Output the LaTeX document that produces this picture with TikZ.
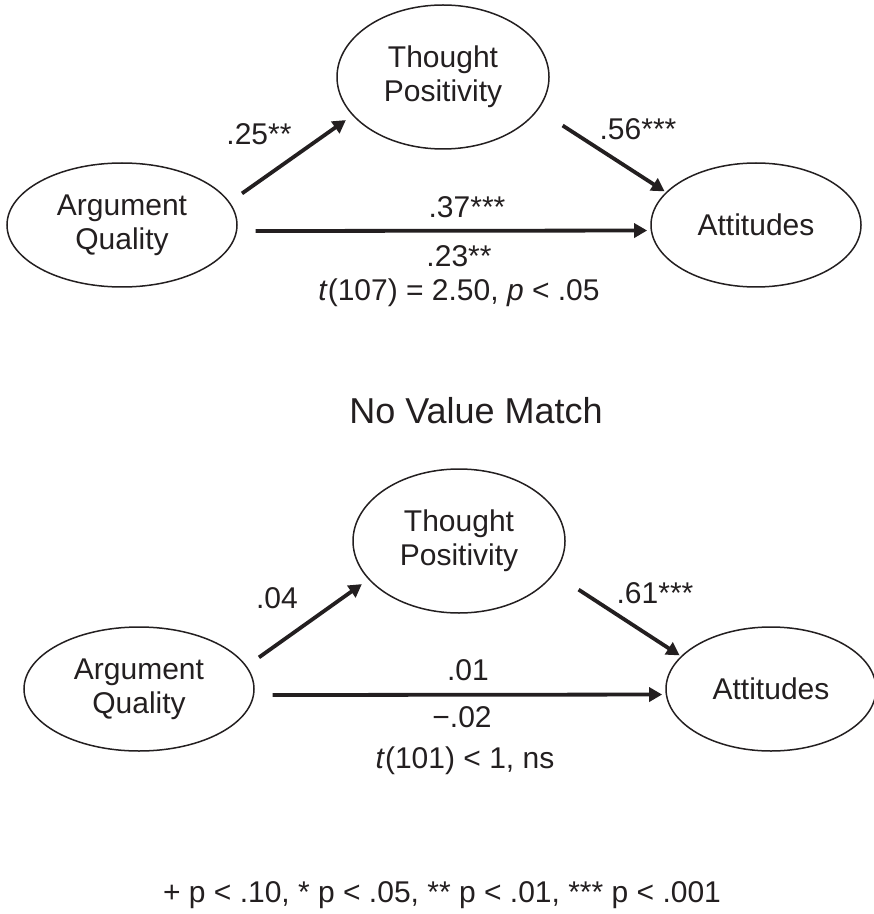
\documentclass[tikz,border=0pt]{standalone}
\usepackage{fontspec}
\setmainfont{Liberation Sans}
\usetikzlibrary{shapes.geometric,arrows.meta}
\definecolor{ink}{HTML}{231F20}
\begin{document}
\begin{tikzpicture}[x=0.5pt, y=-0.5pt,
  latent/.style={ellipse, draw=ink, line width=0.75pt, inner sep=0pt, align=center, text=ink, font=\fontsize{15}{17}\selectfont},
  coef/.style={anchor=base, text=ink, font=\fontsize{15}{17}\selectfont},
  path arrow/.style={-{Triangle[length=6.5pt,width=7pt]}, draw=ink, line width=1.9pt}]
\useasboundingbox (0,0) rectangle (873,914);

% value match
\node[latent, minimum width=115pt, minimum height=62pt] (AQ) at (122,225) {Argument\\Quality};
\node[latent, minimum width=106pt, minimum height=72pt] (TP) at (443,77) {Thought\\Positivity};
\node[latent, minimum width=105pt, minimum height=62pt] (Att) at (756,225) {Attitudes};

\node[coef] (a) at (259,145) {.25**};
\node[coef] (b) at (638,140) {.56***};
\node[coef] (c) at (467,218) {.37***};
\node[coef] (cp) at (459,267) {.23**};
\node[coef] (T) at (459,300) {\textit{t}(107) = 2.50, \textit{p} < .05};

\path (AQ.12) edge[path arrow, shorten <=7.5pt, shorten >=4pt] (TP.203);
\path (TP.341) edge[path arrow, shorten <=14.5pt, shorten >=0.75pt] (Att.160);
\path (AQ.-3) edge[path arrow, shorten <=9.25pt, shorten >=1.75pt] (Att.183);

% no value match
\node[coef, font=\fontsize{18}{20}\selectfont] (title) at (476,423) {No Value Match};

\node[latent, minimum width=115pt, minimum height=62pt] (AQ2) at (139,689) {Argument\\Quality};
\node[latent, minimum width=106pt, minimum height=72pt] (TP2) at (459,541) {Thought\\Positivity};
\node[latent, minimum width=105pt, minimum height=62pt] (Att2) at (771,689) {Attitudes};

\node[coef] (a2) at (277,608) {.04};
\node[coef] (b2) at (655,603) {.61***};
\node[coef] (c2) at (468,680) {.01};
\node[coef] (cp2) at (462,727) {−.02};
\node[coef] (T2) at (465,768) {\textit{t}(101) < 1, ns};

\path (AQ2.12) edge[path arrow, shorten <=7.5pt, shorten >=4pt] (TP2.203);
\path (TP2.341) edge[path arrow, shorten <=14.5pt, shorten >=0.75pt] (Att2.160);
\path (AQ2.-3) edge[path arrow, shorten <=9.25pt, shorten >=1.75pt] (Att2.183);

% significance key
\node[coef] (key) at (442,902) {+ p < .10, * p < .05, ** p < .01, *** p < .001};
\end{tikzpicture}
\end{document}
